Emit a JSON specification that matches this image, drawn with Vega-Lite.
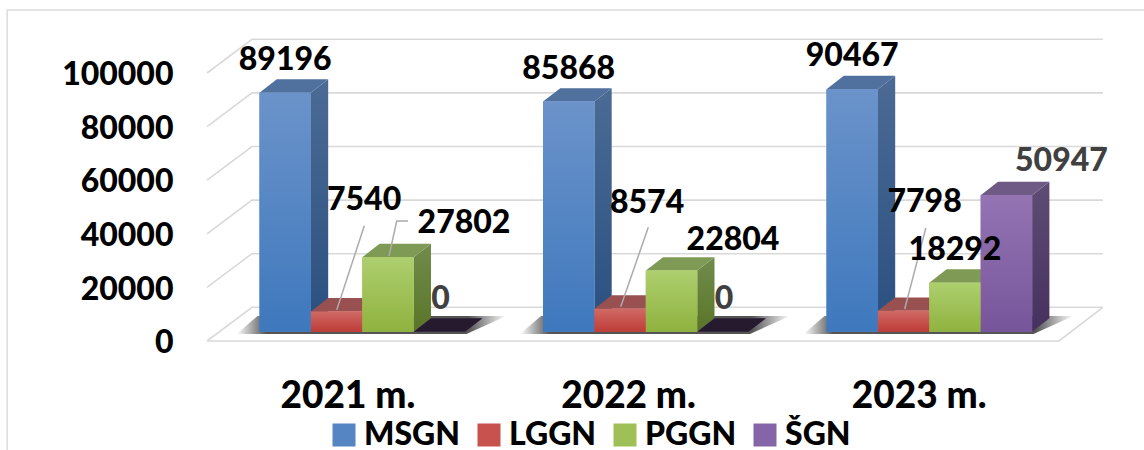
{
"$schema":"https://vega.github.io/schema/vega-lite/v6.json",
"autosize":{"type":"none"},"width":937,"height":341,
"padding":{"left":207,"top":0,"right":0,"bottom":109},
"background":"white",
"config":{"view":{"stroke":null},"font":"Lato","text":{"font":"Lato"}},
"datasets":{
"bars":[
{"year":"2021 m.","series":"MSGN","value":89196},{"year":"2021 m.","series":"LGGN","value":7540},{"year":"2021 m.","series":"PGGN","value":27802},{"year":"2021 m.","series":"ŠGN","value":0},
{"year":"2022 m.","series":"MSGN","value":85868},{"year":"2022 m.","series":"LGGN","value":8574},{"year":"2022 m.","series":"PGGN","value":22804},{"year":"2022 m.","series":"ŠGN","value":0},
{"year":"2023 m.","series":"MSGN","value":90467},{"year":"2023 m.","series":"LGGN","value":7798},{"year":"2023 m.","series":"PGGN","value":18292},{"year":"2023 m.","series":"ŠGN","value":50947}],
"grid":[{"tick":0},{"tick":20000},{"tick":40000},{"tick":60000},{"tick":80000},{"tick":100000}],
"leaders":[
{"label":"7540","px":0.2723,"py":8097},{"label":"7540","px":0.3697,"py":39552},
{"label":"27802","px":0.4568,"py":28246},{"label":"27802","px":0.484,"py":41306},{"label":"27802","px":0.5238,"py":41306},
{"label":"8574","px":1.2741,"py":9328},{"label":"8574","px":1.3714,"py":38955},
{"label":"7798","px":2.2758,"py":8470},{"label":"7798","px":2.3503,"py":38694}],
"frame":[{"px":-0.89,"py":-44142},{"px":-0.89,"py":120037},{"px":3.1199,"py":120037}]
},
"data":{"name":"bars"},
"transform":[
{"calculate":"indexof(['2021 m.','2022 m.','2023 m.'],datum.year)","as":"i"},
{"calculate":"indexof(['MSGN','LGGN','PGGN','ŠGN'],datum.series)","as":"j"},
{"calculate":"datum.i+datum.j*0.1813","as":"x0"},
{"calculate":"datum.x0+0.1813","as":"x1"},
{"calculate":"[datum.x1,datum.x1+0.061]","as":"sx"},
{"calculate":"datum.x0+0.0907","as":"lx"}
],
"encoding":{
"x":{"field":"px","type":"quantitative","title":null,"scale":{"domain":[-0.1852,3.1199],"nice":false,"zero":false},
"axis":{"values":[0.31,1.3,2.325],"labelExpr":"datum.value<1?'2021 m.':datum.value<2?'2022 m.':'2023 m.'","domain":false,"ticks":false,"grid":false,"labelFontSize":37,"labelFontWeight":900,"labelColor":"#000","labelPadding":37,"labelOverlap":false,"labelFlush":false,"labelBound":false,"labelFont":"Lato"}},
"y":{"field":"py","type":"quantitative","title":null,"scale":{"domain":[-3470,123769],"nice":false,"zero":false},
"axis":{"values":[0,20000,40000,60000,80000,100000],"format":"d","domain":false,"ticks":false,"grid":false,"labelFontSize":32,"labelFontWeight":900,"labelColor":"#000","labelPadding":34,"labelOffset":11,"labelOverlap":false,"labelBound":false,"labelFlush":false,"labelFont":"Lato"}}
},
"layer":[
{"data":{"name":"frame"},"mark":{"type":"line","color":"#dcdcdc","strokeWidth":1.5,"clip":false},"encoding":{"order":{"field":"py","sort":"ascending"}}},
{"data":{"name":"grid"},"transform":[
{"calculate":"[-0.1852,-0.0265,2.975]","as":"px"},
{"calculate":"[datum.tick-3470,datum.tick+9100,datum.tick+9100]","as":"py"},
{"flatten":["px","py"]}],
"mark":{"type":"line","color":"#d9d9d9","strokeWidth":1.6},"encoding":{"detail":{"field":"tick"}}},
{"data":{"name":"grid"},"transform":[{"filter":"datum.tick==0"},
{"calculate":"[-0.1852,2.82,2.975]","as":"px"},
{"calculate":"[-3470,-3470,9100]","as":"py"},
{"flatten":["px","py"]}],
"mark":{"type":"line","color":"#d9d9d9","strokeWidth":1.6},"encoding":{"detail":{"field":"tick"}}},
{"transform":[{"filter":"datum.j==0"},
{"calculate":"[datum.i-0.081,datum.i-0.007,datum.i+0.73,datum.i+0.871]","as":"px"},
{"calculate":"[-860,5860,5860,5860]","as":"py"},
{"calculate":"[-860,-860,-860,5860]","as":"py2"},
{"flatten":["px","py","py2"]}],
"mark":{"type":"area","color":{"gradient":"linear","x1":0,"y1":0,"x2":1,"y2":0,"stops":[{"offset":0,"color":"rgba(85,85,85,0)"},{"offset":0.11,"color":"#555555"},{"offset":0.86,"color":"#555555"},{"offset":1,"color":"rgba(85,85,85,0)"}]}},
"encoding":{"y2":{"field":"py2"},"detail":{"field":"year"}}},
{"transform":[{"filter":"datum.j==0"},{"calculate":"datum.sx","as":"px"},{"calculate":"[datum.value,datum.value+5000]","as":"py"},{"calculate":"[0,5000]","as":"py2"},{"flatten":["px","py","py2"]}],
"mark":{"type":"area","color":{"gradient":"linear","x1":0,"y1":0,"x2":0,"y2":1,"stops":[{"offset":0,"color":"#4b6b95"},{"offset":1,"color":"#2a4f7f"}]}},
"encoding":{"y2":{"field":"py2"},"detail":{"field":"year"}}},
{"transform":[{"filter":"datum.j==1"},{"calculate":"datum.sx","as":"px"},{"calculate":"[datum.value,datum.value+5000]","as":"py"},{"calculate":"[0,5000]","as":"py2"},{"flatten":["px","py","py2"]}],
"mark":{"type":"area","color":"#7e3a38"},
"encoding":{"y2":{"field":"py2"},"detail":{"field":"year"}}},
{"transform":[{"filter":"datum.j==2"},{"calculate":"datum.sx","as":"px"},{"calculate":"[datum.value,datum.value+5000]","as":"py"},{"calculate":"[0,5000]","as":"py2"},{"flatten":["px","py","py2"]}],
"mark":{"type":"area","color":{"gradient":"linear","x1":0,"y1":0,"x2":0,"y2":1,"stops":[{"offset":0,"color":"#718c4b"},{"offset":1,"color":"#5a7529"}]}},
"encoding":{"y2":{"field":"py2"},"detail":{"field":"year"}}},
{"transform":[{"filter":"datum.j==3&&datum.value>0"},{"calculate":"datum.sx","as":"px"},{"calculate":"[datum.value,datum.value+5000]","as":"py"},{"calculate":"[0,5000]","as":"py2"},{"flatten":["px","py","py2"]}],
"mark":{"type":"area","color":{"gradient":"linear","x1":0,"y1":0,"x2":0,"y2":1,"stops":[{"offset":0,"color":"#5f4d74"},{"offset":1,"color":"#46305f"}]}},
"encoding":{"y2":{"field":"py2"},"detail":{"field":"year"}}},
{"transform":[
{"calculate":"[datum.x0,datum.x0+0.061,datum.x1,datum.x1+0.061]","as":"px"},
{"calculate":"[datum.value,datum.value+5000,datum.value+5000,datum.value+5000]","as":"py"},
{"calculate":"[datum.value,datum.value,datum.value,datum.value+5000]","as":"py2"},
{"flatten":["px","py","py2"]}],
"mark":{"type":"area"},
"encoding":{"y2":{"field":"py2"},"detail":{"field":"year"},
"color":{"field":"series","type":"nominal","legend":null,"scale":{"domain":["MSGN","LGGN","PGGN","ŠGN"],"range":["#50709d","#985050","#7f9a54","#6f5a86"]}}}},
{"transform":[{"filter":"datum.value==0"},
{"calculate":"[datum.x0,datum.x0+0.061,datum.x1,datum.x1+0.061]","as":"px"},
{"calculate":"[0,5000,5000,5000]","as":"py"},
{"calculate":"[0,0,0,5000]","as":"py2"},
{"flatten":["px","py","py2"]}],
"mark":{"type":"area","color":"#261a2e"},
"encoding":{"y2":{"field":"py2"},"detail":{"field":"year"}}},
{"transform":[{"calculate":"datum.x0","as":"px"},{"calculate":"datum.x1","as":"px2"},{"calculate":"datum.value","as":"py"},{"calculate":"0","as":"py2"}],
"mark":{"type":"rect"},
"encoding":{"x2":{"field":"px2"},"y2":{"field":"py2"},
"color":{"field":"series","type":"nominal","sort":null,
"scale":{"domain":["MSGN","LGGN","PGGN","ŠGN"],"range":["#5585c3","#c8524e","#9fc057","#8565a7"]},
"legend":{"title":null,"orient":"none","legendX":121,"legendY":419,"direction":"horizontal","columns":4,"symbolType":"square","symbolSize":529,"symbolStrokeWidth":0,"labelFontSize":32,"labelFontWeight":900,"labelColor":"#000","labelFont":"Lato","labelOffset":4,"columnPadding":12,"labelLimit":200,"encoding":{"labels":{"update":{"dy":{"value":-3}}}}}}}},
{"transform":[{"filter":"datum.j==0"},{"calculate":"datum.x0","as":"px"},{"calculate":"datum.x1","as":"px2"},{"calculate":"datum.value","as":"py"},{"calculate":"0","as":"py2"}],
"mark":{"type":"rect","color":{"gradient":"linear","x1":0,"y1":0,"x2":0,"y2":1,"stops":[{"offset":0,"color":"#6b93ca"},{"offset":1,"color":"#3e78bd"}]}},
"encoding":{"x2":{"field":"px2"},"y2":{"field":"py2"}}},
{"transform":[{"filter":"datum.j==1"},{"calculate":"datum.x0","as":"px"},{"calculate":"datum.x1","as":"px2"},{"calculate":"datum.value","as":"py"},{"calculate":"0","as":"py2"}],
"mark":{"type":"rect","color":{"gradient":"linear","x1":0,"y1":0,"x2":0,"y2":1,"stops":[{"offset":0,"color":"#d06a65"},{"offset":1,"color":"#be3c38"}]}},
"encoding":{"x2":{"field":"px2"},"y2":{"field":"py2"}}},
{"transform":[{"filter":"datum.j==2"},{"calculate":"datum.x0","as":"px"},{"calculate":"datum.x1","as":"px2"},{"calculate":"datum.value","as":"py"},{"calculate":"0","as":"py2"}],
"mark":{"type":"rect","color":{"gradient":"linear","x1":0,"y1":0,"x2":0,"y2":1,"stops":[{"offset":0,"color":"#aecf6e"},{"offset":1,"color":"#8fb23f"}]}},
"encoding":{"x2":{"field":"px2"},"y2":{"field":"py2"}}},
{"transform":[{"filter":"datum.j==3&&datum.value>0"},{"calculate":"datum.x0","as":"px"},{"calculate":"datum.x1","as":"px2"},{"calculate":"datum.value","as":"py"},{"calculate":"0","as":"py2"}],
"mark":{"type":"rect","color":{"gradient":"linear","x1":0,"y1":0,"x2":0,"y2":1,"stops":[{"offset":0,"color":"#9474b3"},{"offset":1,"color":"#77559b"}]}},
"encoding":{"x2":{"field":"px2"},"y2":{"field":"py2"}}},
{"data":{"name":"leaders"},"mark":{"type":"line","color":"#ababab","strokeWidth":1.5},"encoding":{"detail":{"field":"label"}}},
{"transform":[{"filter":"datum.value==89196||datum.value==85868||datum.value==90467||datum.value==18292"},{"calculate":"datum.lx","as":"px"},{"calculate":"datum.value","as":"py"}],
"mark":{"type":"text","fontSize":32,"fontWeight":900,"color":"#000","dy":-33},"encoding":{"text":{"field":"value","type":"quantitative","format":"d"}}},
{"transform":[{"filter":"datum.value==0"},{"calculate":"datum.lx","as":"px"},{"calculate":"datum.value","as":"py"}],
"mark":{"type":"text","fontSize":32,"fontWeight":900,"color":"#404040","dy":-33,"dx":1},"encoding":{"text":{"field":"value","type":"quantitative","format":"d"}}},
{"transform":[{"filter":"datum.value==50947"},{"calculate":"datum.lx","as":"px"},{"calculate":"datum.value","as":"py"}],
"mark":{"type":"text","fontSize":32,"fontWeight":900,"color":"#404040","dy":-34,"dx":55},"encoding":{"text":{"field":"value","type":"quantitative","format":"d"}}},
{"transform":[{"filter":"datum.value==7540"},{"calculate":"datum.lx","as":"px"},{"calculate":"datum.value","as":"py"}],
"mark":{"type":"text","fontSize":32,"fontWeight":900,"color":"#000","dy":-111.5,"dx":27.5},"encoding":{"text":{"field":"value","type":"quantitative","format":"d"}}},
{"transform":[{"filter":"datum.value==27802"},{"calculate":"datum.lx","as":"px"},{"calculate":"datum.value","as":"py"}],
"mark":{"type":"text","fontSize":32,"fontWeight":900,"color":"#000","dy":-34,"dx":76},"encoding":{"text":{"field":"value","type":"quantitative","format":"d"}}},
{"transform":[{"filter":"datum.value==8574"},{"calculate":"datum.lx","as":"px"},{"calculate":"datum.value","as":"py"}],
"mark":{"type":"text","fontSize":32,"fontWeight":900,"color":"#000","dy":-105.7,"dx":27},"encoding":{"text":{"field":"value","type":"quantitative","format":"d"}}},
{"transform":[{"filter":"datum.value==22804"},{"calculate":"datum.lx","as":"px"},{"calculate":"datum.value","as":"py"}],
"mark":{"type":"text","fontSize":32,"fontWeight":900,"color":"#000","dy":-30.6,"dx":61.5},"encoding":{"text":{"field":"value","type":"quantitative","format":"d"}}},
{"transform":[{"filter":"datum.value==7798"},{"calculate":"datum.lx","as":"px"},{"calculate":"datum.value","as":"py"}],
"mark":{"type":"text","fontSize":32,"fontWeight":900,"color":"#000","dy":-109,"dx":21},"encoding":{"text":{"field":"value","type":"quantitative","format":"d"}}}
],
"resolve":{"scale":{"color":"independent"}}
}
